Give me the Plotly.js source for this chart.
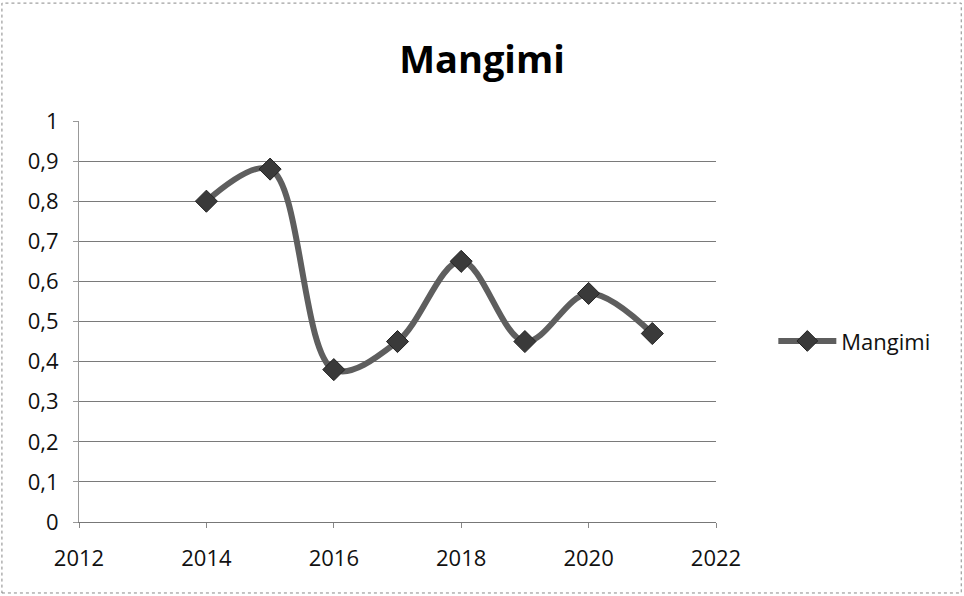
<!DOCTYPE html>
<html>
<head>
<meta charset="utf-8">
<script src="https://cdn.plot.ly/plotly-3.0.1.min.js"></script>
<style>
html,body{margin:0;padding:0;background:#fff;}
#chart{width:964px;height:596px;}
</style>
</head>
<body>
<div id="chart"></div>
<script>
const years = [2014, 2015, 2016, 2017, 2018, 2019, 2020, 2021];
const values = [0.80, 0.88, 0.38, 0.45, 0.65, 0.45, 0.57, 0.47];
const seriesName = "Mangimi";
const chartTitle = "Mangimi";
const xTicks = [2012, 2014, 2016, 2018, 2020, 2022];
const yTicks = [0, 0.1, 0.2, 0.3, 0.4, 0.5, 0.6, 0.7, 0.8, 0.9, 1];
const yTickLabels = ["0", "0,1", "0,2", "0,3", "0,4", "0,5", "0,6", "0,7", "0,8", "0,9", "1"];

const trace = {
  x: years, y: values, name: seriesName, type: 'scatter', mode: 'lines+markers',
  line: {shape: 'spline', smoothing: 1, color: '#5e5e5e', width: 6},
  marker: {symbol: 'diamond', size: 17, color: '#3a3a3a', line: {color: '#222', width: 1}}
};

const layout = {
  width: 964, height: 596,
  margin: {l: 79, r: 248, t: 121, b: 74},
  paper_bgcolor: '#fff', plot_bgcolor: '#fff',
  font: {family: 'Open Sans, Liberation Sans, sans-serif', color: '#111', size: 22},
  title: {text: '<b>' + chartTitle + '</b>', x: 0.5, xanchor: 'center', y: 0.9, yanchor: 'middle',
          font: {size: 38, family: 'Open Sans, sans-serif', color: '#000'}},
  xaxis: {range: [2012, 2022], tickvals: xTicks, ticktext: xTicks.map(String), showgrid: false,
          zeroline: false, showline: true, linecolor: '#777', linewidth: 1,
          ticks: 'outside', ticklen: 5, tickcolor: '#888', ticklabelstandoff: 12, fixedrange: true},
  yaxis: {range: [0, 1], tickvals: yTicks, ticktext: yTickLabels, showgrid: true, gridcolor: '#7a7a7a',
          gridwidth: 1, zeroline: false, showline: true, linecolor: '#999', linewidth: 1,
          ticks: 'outside', ticklen: 5, tickcolor: '#999', ticklabelstandoff: 10, fixedrange: true},
  showlegend: true,
  legend: {x: 1.09, y: 0.451, xanchor: 'left', yanchor: 'middle', font: {size: 22}, itemwidth: 58,
           bgcolor: 'rgba(0,0,0,0)'},
  shapes: [{type: 'rect', xref: 'paper', yref: 'paper', x0: -0.121, x1: 1.385, y0: -0.177, y1: 1.294,
            line: {color: '#888', width: 1, dash: 'dot'}}]
};

Plotly.newPlot('chart', [trace], layout, {displayModeBar: false, staticPlot: true});
</script>
</body>
</html>
